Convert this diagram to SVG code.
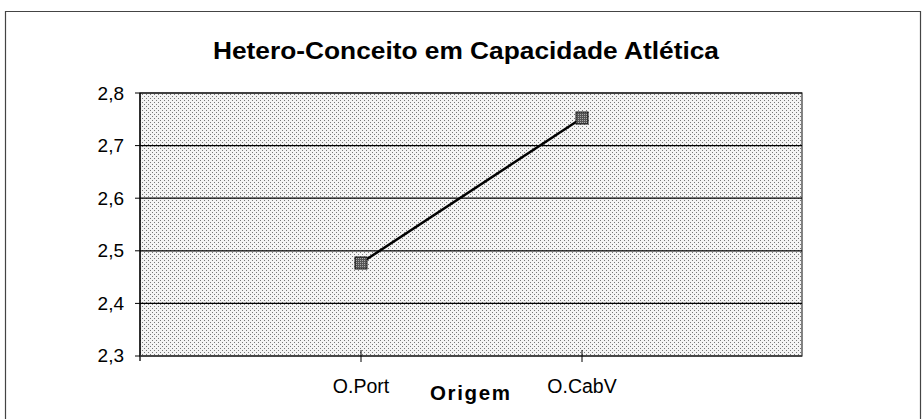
<svg xmlns="http://www.w3.org/2000/svg" width="922" height="419" viewBox="0 0 922 419">
<style>
text{font-family:"Liberation Sans",Arial,sans-serif;fill:#000}
.ax{font-size:19px}
.cat{font-size:19.5px}
.grid{stroke:#000;stroke-width:1.2}
.tick{stroke:#000;stroke-width:1}
</style>
<defs>
<pattern id="dots" width="4" height="4" patternUnits="userSpaceOnUse">
<rect width="4" height="4" fill="#f4f4f4"/>
<rect x="0" y="0" width="1" height="1" fill="#777"/>
<rect x="2" y="2" width="1" height="1" fill="#777"/>
</pattern>
<pattern id="mk" width="2" height="2" patternUnits="userSpaceOnUse">
<rect width="2" height="2" fill="#555"/>
<rect width="1" height="1" fill="#aaa"/>
</pattern>
</defs>
<rect x="0" y="0" width="922" height="419" fill="#fff"/>
<g id="frame">
<path d="M5.5 419 V11.5 H920.5 V419" fill="none" stroke="#444" stroke-width="1.2"/>
</g>
<g id="title">
<text x="213" y="59" font-size="23.5" font-weight="bold" textLength="506" lengthAdjust="spacingAndGlyphs">Hetero-Conceito em Capacidade Atlética</text>
</g>
<g id="plot">
<rect x="140" y="93" width="662" height="263" fill="url(#dots)" stroke="#333" stroke-width="1.2"/>
<line class="grid" x1="140" y1="93" x2="802" y2="93"/>
<line class="grid" x1="140" y1="145.6" x2="802" y2="145.6"/>
<line class="grid" x1="140" y1="198.2" x2="802" y2="198.2"/>
<line class="grid" x1="140" y1="250.8" x2="802" y2="250.8"/>
<line class="grid" x1="140" y1="303.4" x2="802" y2="303.4"/>
</g>
<g id="axes">
<line x1="140" y1="93" x2="140" y2="361" stroke="#000" stroke-width="1.3"/>
<line x1="140" y1="356" x2="802" y2="356" stroke="#333" stroke-width="1.5"/>
<line class="tick" x1="135" y1="93" x2="140" y2="93"/>
<line class="tick" x1="135" y1="145.6" x2="140" y2="145.6"/>
<line class="tick" x1="135" y1="198.2" x2="140" y2="198.2"/>
<line class="tick" x1="135" y1="250.8" x2="140" y2="250.8"/>
<line class="tick" x1="135" y1="303.4" x2="140" y2="303.4"/>
<line class="tick" x1="135" y1="356" x2="140" y2="356"/>
<line class="tick" x1="361" y1="350" x2="361" y2="362"/>
<line class="tick" x1="582" y1="350" x2="582" y2="362"/>
<text class="ax" x="124" y="99.5" text-anchor="end">2,8</text>
<text class="ax" x="124" y="152" text-anchor="end">2,7</text>
<text class="ax" x="124" y="204.5" text-anchor="end">2,6</text>
<text class="ax" x="124" y="257" text-anchor="end">2,5</text>
<text class="ax" x="124" y="309.5" text-anchor="end">2,4</text>
<text class="ax" x="124" y="362" text-anchor="end">2,3</text>
<text class="cat" x="361" y="393" text-anchor="middle">O.Port</text>
<text class="cat" x="582" y="393" text-anchor="middle">O.CabV</text>
<text x="430" y="400" font-size="20.5" font-weight="bold" textLength="80" lengthAdjust="spacing">Origem</text>
</g>
<g id="connectors">
<line x1="361" y1="263" x2="582" y2="118" stroke="#000" stroke-width="2.5"/>
</g>
<g id="point-OPort">
<rect x="355" y="257" width="12" height="12" fill="url(#mk)" stroke="#111" stroke-width="1"/>
</g>
<g id="point-OCabV">
<rect x="576" y="112" width="12" height="12" fill="url(#mk)" stroke="#111" stroke-width="1"/>
</g>
</svg>
